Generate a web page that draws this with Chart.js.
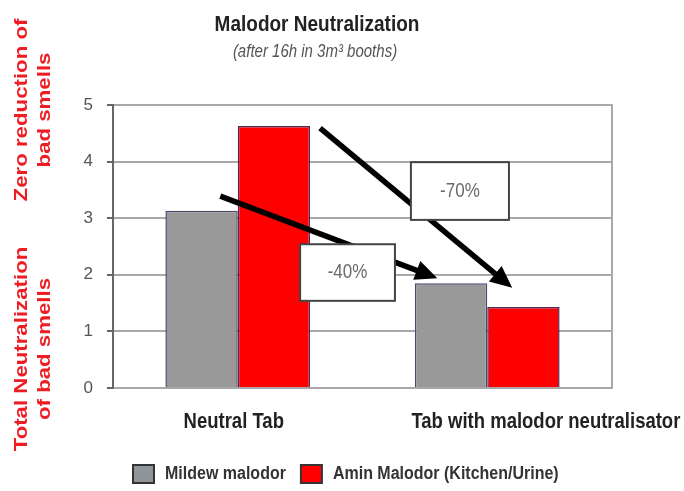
<!DOCTYPE html>
<html>
<head>
<meta charset="utf-8">
<script src="https://cdn.jsdelivr.net/npm/chart.js@4"></script>
<style>
  html, body { margin: 0; padding: 0; background: #fff; }
  #wrap { width: 684px; height: 491px; }
</style>
</head>
<body>
<div id="wrap"><canvas id="c" width="684" height="491"></canvas></div>
<script>
// ---- data ----
const categories = ['Neutral Tab', 'Tab with malodor neutralisator'];
const seriesNames = ['Mildew malodor', 'Amin Malodor (Kitchen/Urine)'];
const mildewValues = [3.13, 1.85];
const aminValues = [4.63, 1.43];
const yTickValues = [0, 1, 2, 3, 4, 5];
const changeLabels = ['-40%', '-70%'];
const chartTitle = 'Malodor Neutralization';
const chartSubtitle = '(after 16h in 3m\u00B3 booths)';
const yTitleTop = ['Zero reduction of', 'bad smells'];
const yTitleBottom = ['Total Neutralization', 'of bad smells'];

const FONT = '"Liberation Sans", Arial, sans-serif';
const STRETCH = 1.17;

// annotation geometry in data space (category index, value)
const annot = {
  arrows: [
    { from: [-0.07, 3.39], to: [0.80, 1.94] },
    { from: [0.33, 4.59], to: [1.10, 1.77] }
  ],
  boxes: [
    { x0: 0.25, x1: 0.63, y0: 2.54, y1: 1.54, label: changeLabels[0] },
    { x0: 0.694, x1: 1.087, y0: 3.99, y1: 2.97, label: changeLabels[1] }
  ],
  catLabelShift: [-0.016, 0.235]   // in category units
};

function stretchedText(ctx, text, x, y, font, color, align) {
  ctx.save();
  ctx.translate(x, y);
  ctx.scale(1, STRETCH);
  ctx.font = font;
  ctx.fillStyle = color;
  ctx.textAlign = align || 'center';
  ctx.textBaseline = 'middle';
  ctx.fillText(text, 0, 0);
  ctx.restore();
}

const decor = {
  id: 'decor',
  beforeDatasetsDraw(chart) {
    const { ctx, chartArea: a } = chart;
    ctx.save();
    ctx.strokeStyle = '#a8a8a8';
    ctx.lineWidth = 2;
    ctx.beginPath();
    ctx.moveTo(a.right, a.top - 1);
    ctx.lineTo(a.right, a.bottom + 1);
    ctx.stroke();
    ctx.restore();
  },
  afterDatasetsDraw(chart) {
    const { ctx } = chart;
    const xs = chart.scales.x, ys = chart.scales.y;
    const px = v => xs.getPixelForValue(v), py = v => ys.getPixelForValue(v);
    ctx.save();
    // arrows
    annot.arrows.forEach(ar => {
      const x0 = px(ar.from[0]), y0 = py(ar.from[1]);
      const x1 = px(ar.to[0]), y1 = py(ar.to[1]);
      const ang = Math.atan2(y1 - y0, x1 - x0);
      const hl = 22, hw = 10;
      const bx = x1 - hl * Math.cos(ang), by = y1 - hl * Math.sin(ang);
      ctx.strokeStyle = '#000';
      ctx.lineWidth = 5.5;
      ctx.lineCap = 'butt';
      ctx.beginPath();
      ctx.moveTo(x0, y0);
      ctx.lineTo(bx + 2 * Math.cos(ang), by + 2 * Math.sin(ang));
      ctx.stroke();
      ctx.fillStyle = '#000';
      ctx.beginPath();
      ctx.moveTo(x1, y1);
      ctx.lineTo(bx + hw * Math.sin(ang), by - hw * Math.cos(ang));
      ctx.lineTo(bx - hw * Math.sin(ang), by + hw * Math.cos(ang));
      ctx.closePath();
      ctx.fill();
    });
    // label boxes
    annot.boxes.forEach(b => {
      const l = px(b.x0), r = px(b.x1), t = py(b.y0), bt = py(b.y1);
      ctx.fillStyle = '#fff';
      ctx.fillRect(l, t, r - l, bt - t);
      ctx.strokeStyle = '#444';
      ctx.lineWidth = 2;
      ctx.strokeRect(l, t, r - l, bt - t);
      stretchedText(ctx, b.label, (l + r) / 2, (t + bt) / 2, '17px ' + FONT, '#6a6a6a');
    });
    ctx.restore();
  },
  afterDraw(chart) {
    const { ctx, chartArea: a } = chart;
    const xs = chart.scales.x;
    // category labels
    chart.data.labels.forEach((lab, i) => {
      stretchedText(ctx, lab, xs.getPixelForValue(i + annot.catLabelShift[i]), a.bottom + 34,
        'bold 18.5px ' + FONT, '#222');
    });
    // title + subtitle
    stretchedText(ctx, chartTitle, 317, 25, 'bold 19px ' + FONT, '#222');
    stretchedText(ctx, chartSubtitle, 315, 52, 'italic 15px ' + FONT, '#555');
    // y-axis titles (rotated)
    const drawRot = (lines, cy) => {
      lines.forEach((txt, i) => {
        ctx.save();
        ctx.translate(22 + i * 23, cy);
        ctx.rotate(-Math.PI / 2);
        ctx.scale(STRETCH, 1);
        ctx.font = 'bold 19px ' + FONT;
        ctx.fillStyle = '#ee1d24';
        ctx.textAlign = 'center';
        ctx.textBaseline = 'middle';
        ctx.fillText(txt, 0, 0);
        ctx.restore();
      });
    };
    drawRot(yTitleTop, 110);
    drawRot(yTitleBottom, 349);
    // legend
    let x = 133;
    const ly = 474;
    chart.data.datasets.forEach(ds => {
      ctx.save();
      ctx.fillStyle = ds.legendFill || ds.backgroundColor;
      ctx.fillRect(x, ly - 9, 21, 18);
      ctx.strokeStyle = '#333';
      ctx.lineWidth = 2;
      ctx.strokeRect(x, ly - 9, 21, 18);
      ctx.font = 'bold 16px ' + FONT;
      const w = ctx.measureText(ds.label).width;
      ctx.restore();
      stretchedText(ctx, ds.label, x + 32, ly, 'bold 16px ' + FONT, '#333', 'left');
      x += 32 + w + 15;
    });
  }
};

new Chart(document.getElementById('c'), {
  type: 'bar',
  data: {
    labels: categories,
    datasets: [
      { label: seriesNames[0], data: mildewValues, backgroundColor: '#999999', legendFill: '#8e969c',
        borderColor: '#4e4470', borderWidth: 1.5 },
      { label: seriesNames[1], data: aminValues, backgroundColor: '#ff0000',
        borderColor: '#4e2a5a', borderWidth: 1.5 }
    ]
  },
  options: {
    responsive: false,
    animation: false,
    layout: { padding: { left: 0, right: 72, top: 105, bottom: 0 } },
    plugins: { legend: { display: false }, title: { display: false }, tooltip: { enabled: false } },
    datasets: { bar: { categoryPercentage: 0.58, barPercentage: 1.0 } },
    scales: {
      x: {
        grid: { display: false, drawTicks: false },
        border: { display: true, color: '#a8a8a8', width: 2 },
        ticks: { display: false },
        afterFit: s => { s.height = 103; }
      },
      y: {
        min: 0, max: 5,
        afterBuildTicks: s => { s.ticks = yTickValues.map(v => ({ value: v })); },
        ticks: { font: { family: FONT, size: 17 }, color: '#555', padding: 14 },
        grid: { color: '#a8a8a8', lineWidth: 2, tickLength: 6, tickColor: '#666', drawTicks: true },
        border: { display: true, color: '#666', width: 2 },
        afterFit: s => { s.width = 113; }
      }
    }
  },
  plugins: [decor]
});
</script>
</body>
</html>
